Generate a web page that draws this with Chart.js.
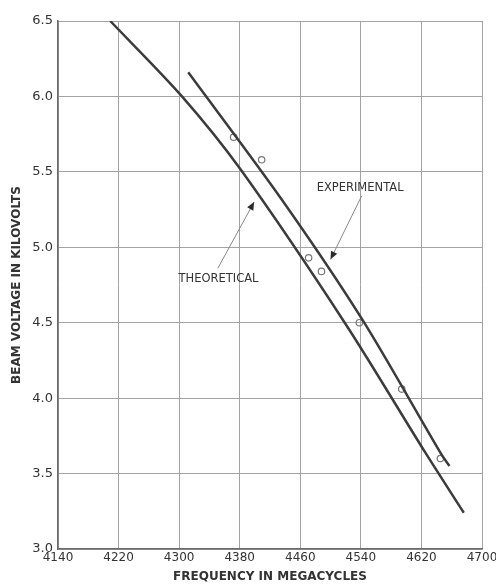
<!DOCTYPE html>
<html>
<head>
<meta charset="utf-8">
<script src="https://cdn.jsdelivr.net/npm/chart.js@4/dist/chart.umd.min.js"></script>
<style>
  html, body { margin: 0; padding: 0; background: #fff; }
  #wrap { width: 496px; height: 586px; }
</style>
</head>
<body>
<div id="wrap"><canvas id="grafica"></canvas></div>
<script>
// ejes
const frecuenciaTicks = [4140, 4220, 4300, 4380, 4460, 4540, 4620, 4700];
const voltajeTicks = [3.0, 3.5, 4.0, 4.5, 5.0, 5.5, 6.0, 6.5];

// curva teorica
const teoricaFrec = [4209, 4302, 4382, 4520, 4625, 4676];
const teoricaVolt = [6.50, 6.01, 5.51, 4.49, 3.64, 3.24];

// curva experimental (linea trazada)
const experimentalFrec = [4312, 4435, 4542, 4646, 4657];
const experimentalVolt = [6.16, 5.32, 4.52, 3.63, 3.55];

// puntos medidos (circulos)
const medidaFrec = [4372, 4409, 4471, 4488, 4538, 4594, 4645];
const medidaVolt = [5.73, 5.58, 4.93, 4.84, 4.50, 4.06, 3.60];

// rotulos con flecha
const rotuloTexto = ['EXPERIMENTAL', 'THEORETICAL'];
const rotuloFrec = [4539, 4352];
const rotuloVolt = [5.39, 4.79];
const flechaDesdeFrec = [4541, 4351];
const flechaDesdeVolt = [5.34, 4.86];
const flechaHastaFrec = [4500, 4399];
const flechaHastaVolt = [4.92, 5.30];

const aPuntos = (xs, ys) => xs.map((x, i) => ({ x: x, y: ys[i] }));

const tinta = '#3c3c3c';
const fuente = "'DejaVu Sans', sans-serif";

const rotulos = {
  id: 'rotulos',
  afterDatasetsDraw(chart) {
    const ctx = chart.ctx;
    const sx = chart.scales.x, sy = chart.scales.y;
    ctx.save();
    for (let i = 0; i < rotuloTexto.length; i++) {
      ctx.font = '11.5px ' + fuente;
      ctx.fillStyle = '#333';
      ctx.textAlign = 'center';
      ctx.textBaseline = 'middle';
      ctx.fillText(rotuloTexto[i], sx.getPixelForValue(rotuloFrec[i]), sy.getPixelForValue(rotuloVolt[i]));

      const x0 = sx.getPixelForValue(flechaDesdeFrec[i]), y0 = sy.getPixelForValue(flechaDesdeVolt[i]);
      const x1 = sx.getPixelForValue(flechaHastaFrec[i]), y1 = sy.getPixelForValue(flechaHastaVolt[i]);
      ctx.strokeStyle = '#888';
      ctx.lineWidth = 1;
      ctx.beginPath();
      ctx.moveTo(x0, y0);
      ctx.lineTo(x1, y1);
      ctx.stroke();
      // punta
      const ang = Math.atan2(y1 - y0, x1 - x0);
      const largo = 8, ancho = 3.5;
      ctx.fillStyle = '#2a2a2a';
      ctx.beginPath();
      ctx.moveTo(x1, y1);
      ctx.lineTo(x1 - largo * Math.cos(ang) + ancho * Math.sin(ang), y1 - largo * Math.sin(ang) - ancho * Math.cos(ang));
      ctx.lineTo(x1 - largo * Math.cos(ang) - ancho * Math.sin(ang), y1 - largo * Math.sin(ang) + ancho * Math.cos(ang));
      ctx.closePath();
      ctx.fill();
    }
    ctx.restore();
  }
};

const ctx = document.getElementById('grafica').getContext('2d');
new Chart(ctx, {
  type: 'line',
  data: {
    datasets: [
      {
        label: 'Theoretical',
        data: aPuntos(teoricaFrec, teoricaVolt),
        borderColor: tinta,
        borderWidth: 2.5,
        pointRadius: 0,
        tension: 0.3,
        fill: false
      },
      {
        label: 'Experimental',
        data: aPuntos(experimentalFrec, experimentalVolt),
        borderColor: tinta,
        borderWidth: 2.5,
        pointRadius: 0,
        tension: 0.3,
        fill: false
      },
      {
        label: 'Measured',
        type: 'scatter',
        data: aPuntos(medidaFrec, medidaVolt),
        showLine: false,
        pointRadius: 3.2,
        pointBorderWidth: 1.2,
        pointBorderColor: '#777',
        pointBackgroundColor: 'rgba(255,255,255,0)'
      }
    ]
  },
  options: {
    responsive: true,
    maintainAspectRatio: false,
    animation: false,
    layout: { padding: { top: 21, right: 14, bottom: 0, left: 0 } },
    plugins: {
      legend: { display: false },
      tooltip: { enabled: false }
    },
    scales: {
      x: {
        type: 'linear',
        min: 4140,
        max: 4700,
        afterBuildTicks: (scale) => { scale.ticks = frecuenciaTicks.map(v => ({ value: v })); },
        afterFit: (scale) => { scale.height = 37; scale.paddingLeft = 0; scale.paddingRight = 0; },
        grid: { color: '#a3a3a3', lineWidth: 1, drawTicks: false },
        border: { color: '#6a6a6a', width: 1.5 },
        ticks: {
          padding: 2,
          maxRotation: 0,
          autoSkip: false,
          color: '#333',
          font: { family: fuente, size: 12 },
          callback: (v) => String(v)
        },
        title: {
          display: true,
          text: 'FREQUENCY IN MEGACYCLES',
          color: '#333',
          font: { family: fuente, size: 12, weight: 'bold' },
          padding: { top: 0, bottom: 2 }
        }
      },
      y: {
        type: 'linear',
        min: 3.0,
        max: 6.5,
        afterBuildTicks: (scale) => { scale.ticks = voltajeTicks.map(v => ({ value: v })); },
        afterFit: (scale) => { scale.width = 58; scale.paddingTop = 0; scale.paddingBottom = 0; },
        grid: { color: '#a3a3a3', lineWidth: 1, drawTicks: false },
        border: { color: '#6a6a6a', width: 1.5 },
        ticks: {
          padding: 5,
          autoSkip: false,
          color: '#333',
          font: { family: fuente, size: 13 },
          callback: (v) => Number(v).toFixed(1)
        },
        title: {
          display: true,
          text: 'BEAM VOLTAGE IN KILOVOLTS',
          color: '#333',
          font: { family: fuente, size: 12, weight: 'bold' },
          padding: { top: 10, bottom: 0 }
        }
      }
    }
  },
  plugins: [rotulos]
});
</script>
</body>
</html>
